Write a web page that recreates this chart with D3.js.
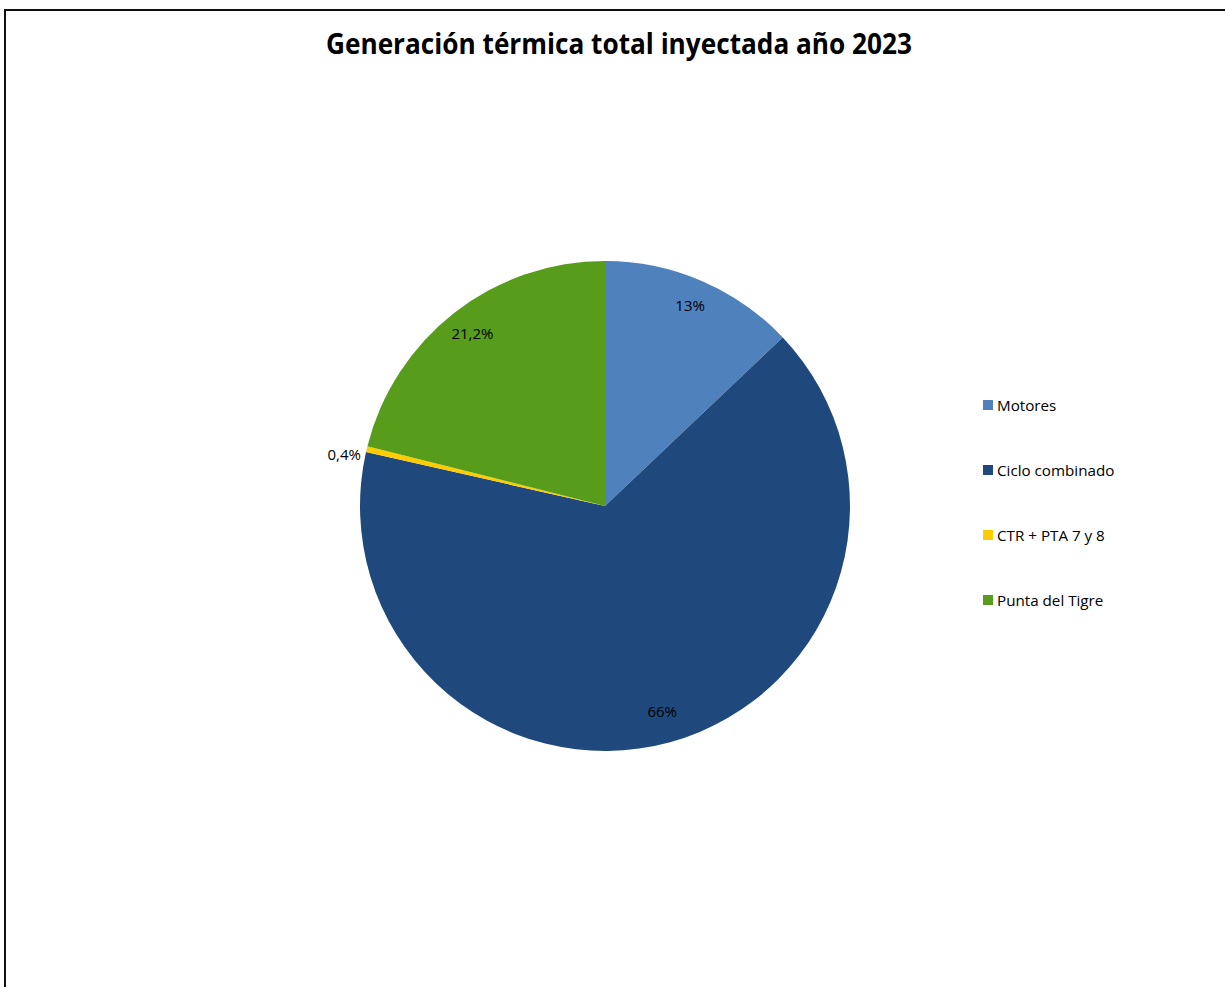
<!DOCTYPE html>
<html>
<head>
<meta charset="utf-8">
<script src="https://cdn.jsdelivr.net/npm/d3@7"></script>
<style>
  html, body { margin: 0; padding: 0; background: #fff; }
  svg { display: block; }
  text { font-family: "Open Sans", "Liberation Sans", sans-serif; }
</style>
</head>
<body>
<svg id="chart" width="1225" height="987"></svg>
<script>
// Thermal generation shares, 2023 (%)
const categories = ["Motores", "Ciclo combinado", "CTR + PTA 7 y 8", "Punta del Tigre"];
const shares = [13, 66, 0.4, 21.2];
const shareLabels = ["13%", "66%", "0,4%", "21,2%"];
const colors = ["#4F81BD", "#1F497D", "#FFCC00", "#589C1B"];
const title = "Generación térmica total inyectada año 2023";

const svg = d3.select("#chart");
const W = 1225, H = 987;

// chart frame
svg.append("rect")
  .attr("x", 5).attr("y", 10)
  .attr("width", W + 10).attr("height", H + 10)
  .attr("fill", "#fff").attr("stroke", "#111").attr("stroke-width", 2);

svg.append("text")
  .attr("x", 619).attr("y", 54)
  .attr("text-anchor", "middle")
  .attr("font-size", 28)
  .attr("font-weight", 700)
  .attr("textLength", 586)
  .attr("lengthAdjust", "spacingAndGlyphs")
  .attr("fill", "#000")
  .text(title);

const cx = 605, cy = 506, R = 245;
const data = categories.map((c, i) => ({ name: c, value: shares[i], label: shareLabels[i], color: colors[i] }));

const pie = d3.pie().sort(null).value(d => d.value);
const arcs = pie(data);
const arc = d3.arc().innerRadius(0).outerRadius(R);
const labelArc = d3.arc().innerRadius(R * 0.88).outerRadius(R * 0.88);

const g = svg.append("g").attr("transform", `translate(${cx},${cy})`);

g.selectAll("path.slice")
  .data(arcs)
  .join("path")
  .attr("class", "slice")
  .attr("d", arc)
  .attr("fill", d => d.data.color);

// value labels: inside for large slices, outside for the thin one
g.selectAll("text.val")
  .data(arcs)
  .join("text")
  .attr("class", "val")
  .attr("font-size", 15)
  .attr("fill", "#000")
  .each(function(d) {
    const sel = d3.select(this);
    const span = d.endAngle - d.startAngle;
    if (span < 0.1) {
      const mid = (d.startAngle + d.endAngle) / 2;
      const r = R + 6;
      sel.attr("x", Math.sin(mid) * r)
         .attr("y", -Math.cos(mid) * r + 12)
         .attr("text-anchor", "end");
    } else {
      const [x, y] = labelArc.centroid(d);
      sel.attr("x", x).attr("y", y + 3).attr("text-anchor", "middle");
    }
  })
  .text(d => d.data.label);

// legend
const legend = svg.append("g").attr("transform", "translate(983,405)");
const rows = legend.selectAll("g")
  .data(data)
  .join("g")
  .attr("transform", (d, i) => `translate(0,${i * 65})`);
rows.append("rect")
  .attr("x", 0).attr("y", -5)
  .attr("width", 10).attr("height", 10)
  .attr("fill", d => d.color);
rows.append("text")
  .attr("x", 14).attr("y", 5.5)
  .attr("font-size", 15.2)
  .attr("fill", "#000")
  .text(d => d.name);
</script>
</body>
</html>
